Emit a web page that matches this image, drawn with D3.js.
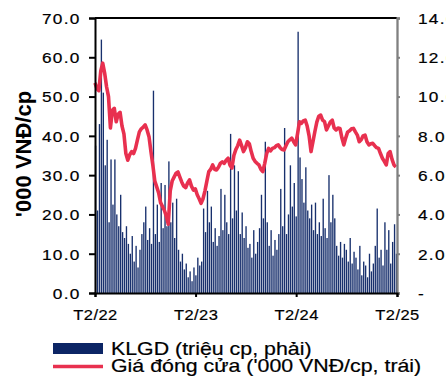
<!DOCTYPE html>
<html>
<head>
<meta charset="utf-8">
<script src="https://cdn.jsdelivr.net/npm/d3@7"></script>
<style>
  html, body { margin: 0; padding: 0; background: #fff; }
  svg { display: block; font-family: "Liberation Sans", Arial, sans-serif; }
</style>
</head>
<body>
<svg id="chart" width="446" height="385"></svg>
<script>
// Weekly series starting the first week of February 2022
const startDate = new Date(2022, 1, 1);

// Closing price, '000 VND per share (left axis)
const closePrice = [
  53.5, 52.0, 51.5, 56.5, 58.5, 56.0, 52.5, 50.0, 42.0, 46.5,
  47.0, 43.6, 45.5, 46.0, 42.5, 40.5, 35.5, 33.8, 35.2, 36.0,
  35.5, 36.8, 39.0, 41.0, 41.8, 42.2, 42.8, 41.5, 39.8, 36.0,
  32.5, 28.5, 27.0, 25.5, 23.0, 22.0, 21.0, 19.5, 17.5, 26.0,
  28.5, 29.5, 30.5, 30.8, 29.5, 28.2, 27.2, 26.8, 28.0, 28.8,
  27.2, 26.2, 26.5, 25.0, 24.0, 22.8, 24.0, 26.0, 28.5, 30.9,
  31.5, 32.6, 31.5, 31.3, 32.0, 33.0, 33.4, 33.0, 33.8, 34.3,
  32.5, 31.8, 35.0, 36.5, 37.5, 38.9, 37.5, 36.0, 37.0, 38.5,
  38.0, 36.0, 34.3, 33.5, 33.0, 32.6, 31.5, 30.9, 33.0, 35.5,
  36.8, 36.2, 36.8, 37.0, 37.5, 37.7, 37.0, 36.5, 36.4, 37.5,
  38.5, 39.0, 39.4, 38.5, 37.7, 40.5, 43.6, 43.2, 43.8, 44.0,
  42.5, 40.0, 36.0, 38.5, 41.1, 43.5, 45.0, 45.3, 44.0, 43.6,
  41.5, 42.5, 43.5, 44.0, 42.0, 41.5, 42.0, 41.9, 39.5, 37.7,
  39.5, 41.0, 41.3, 41.8, 41.9, 41.0, 40.2, 38.5, 39.0, 40.0,
  40.2, 38.5, 37.7, 38.0, 38.1, 37.5, 37.0, 36.8, 35.5, 34.3,
  33.5, 32.6, 35.5, 36.0, 34.0, 32.6, 32.1
];

// Trading volume, million shares (right axis)
const volume = [
  7.5, 4.2, 8.6, 12.9, 10.2, 6.5, 7.8, 3.6, 6.8, 4.5,
  6.8, 4.0, 3.4, 5.0, 3.1, 2.8, 3.4, 2.5, 2.0, 2.9,
  1.6, 2.4, 1.3, 2.2, 3.0, 3.6, 4.4, 2.7, 3.3, 2.5,
  10.3, 3.0, 4.5, 2.6, 5.6, 3.3, 5.5, 3.4, 6.7, 3.6,
  4.6, 2.8, 4.8, 2.2, 1.6, 2.0, 1.2, 1.5, 0.8, 1.1,
  0.6, 1.3, 0.9, 1.8, 1.4, 1.6, 4.3, 3.1, 5.2, 3.6,
  4.4, 2.6, 3.3, 2.4, 2.9, 5.3, 3.2, 5.0, 3.6, 3.0,
  8.1, 3.8, 6.5, 4.2, 6.2, 3.0, 4.1, 2.8, 3.4, 2.3,
  2.5, 1.8, 3.2, 2.0, 2.6, 3.3, 5.0, 3.8, 7.7, 3.6,
  2.4, 3.2, 1.9, 2.7, 2.2, 3.0, 5.3, 3.4, 8.4, 3.0,
  4.0, 6.5, 4.4, 5.6, 3.9, 13.3, 6.9, 5.8, 4.6, 6.4,
  4.2, 3.8, 4.5, 3.2, 4.6, 3.0, 3.6, 2.9, 4.8, 3.3,
  2.8, 6.0, 3.6, 5.0, 3.8, 2.4, 1.9, 2.6, 1.8, 2.5,
  2.2, 1.6, 2.8, 1.5, 2.1, 1.8, 1.2, 2.4, 0.9, 1.6,
  1.4, 0.8, 2.0, 1.1, 1.5, 2.4, 4.3, 1.8, 2.2, 1.4,
  3.6, 2.2, 3.2, 1.5, 2.6, 3.5, 2.0
];

// Axis ticks and labels
const xTickDates = [new Date(2022, 1, 1), new Date(2023, 1, 1), new Date(2024, 1, 1), new Date(2025, 1, 1)];
const xTickLabels = ["T2/22", "T2/23", "T2/24", "T2/25"];
const priceTicks = [0, 10, 20, 30, 40, 50, 60, 70];
const volumeTicks = [0, 2, 4, 6, 8, 10, 12, 14];

const legendLabels = ["KLGD (triệu cp, phải)", "Giá đóng cửa ('000 VNĐ/cp, trái)"];
const yTitle = "'000 VNĐ/cp";

const barColor = "#0c2565";
const lineColor = "#e8304f";
const textColor = "#000";

const weeks = closePrice.map((_, i) => d3.timeDay.offset(startDate, 7 * i));

const svg = d3.select("#chart");
const plotLeft = 95, plotRight = 397, plotTop = 18, plotBottom = 293;

const x = d3.scaleTime().domain([xTickDates[0], xTickDates[3]]).range([plotLeft, plotRight]);
const yL = d3.scaleLinear().domain([0, 70]).range([plotBottom, plotTop]);
const yR = d3.scaleLinear().domain([0, 14]).range([plotBottom, plotTop]);

// Volume bars
const step = x(weeks[1]) - x(weeks[0]);
const barW = step * 0.7;
svg.append("g")
  .selectAll("rect")
  .data(volume)
  .join("rect")
  .attr("x", (d, i) => x(weeks[i]) - barW / 2 + 0.6)
  .attr("y", d => yR(d))
  .attr("width", barW)
  .attr("height", d => yR(0) - yR(d))
  .attr("fill", barColor)
  .attr("fill-opacity", 0.95);

// Closing price line
svg.append("path")
  .datum(closePrice)
  .attr("fill", "none")
  .attr("stroke", lineColor)
  .attr("stroke-width", 3.6)
  .attr("stroke-linejoin", "round")
  .attr("d", d3.line().x((d, i) => x(weeks[i])).y(d => yL(d)));

// Top frame line
svg.append("line")
  .attr("x1", plotLeft).attr("x2", plotRight)
  .attr("y1", plotTop).attr("y2", plotTop)
  .attr("stroke", "#000").attr("stroke-width", 2);

// Shared look of tick labels: slightly widened Arial-style glyphs
function styleTicks(sel, sx, spacing) {
  sel.attr("font-size", 15)
    .attr("fill", textColor)
    .attr("stroke", textColor)
    .attr("stroke-width", 0.2)
    .attr("font-family", "'Liberation Sans', Arial, sans-serif")
    .style("letter-spacing", spacing + "px");
}

// Left axis
const sxL = 1.15;
const gL = svg.append("g").attr("transform", `translate(${plotLeft},0)`)
  .call(d3.axisLeft(yL).tickValues(priceTicks).tickFormat(d3.format(".1f")).tickSize(6));
gL.select(".domain").attr("stroke", "#000").attr("stroke-width", 2);
gL.selectAll(".tick line").attr("stroke", "#000").attr("stroke-width", 2);
gL.selectAll(".tick text")
  .call(styleTicks, sxL, 1.1)
  .attr("x", -14.4 / sxL)
  .attr("dy", "0.36em")
  .attr("transform", `scale(${sxL},1)`);

// Right axis
const gR = svg.append("g").attr("transform", `translate(${plotRight},0)`)
  .call(d3.axisRight(yR).tickValues(volumeTicks)
    .tickFormat(d => d === 0 ? "-" : d3.format(".1f")(d)).tickSize(3));
gR.select(".domain").attr("stroke", "#808080").attr("stroke-width", 2.3);
gR.selectAll(".tick line").attr("stroke", "#808080").attr("stroke-width", 2);
gR.selectAll(".tick text")
  .call(styleTicks, sxL, 1.1)
  .attr("x", 21 / sxL)
  .attr("dy", "0.36em")
  .attr("transform", `scale(${sxL},1)`);

// Bottom axis
const sxB = 1.1;
const gB = svg.append("g").attr("transform", `translate(0,${plotBottom})`)
  .call(d3.axisBottom(x).tickValues(xTickDates)
    .tickFormat((d, i) => xTickLabels[i]).tickSize(4).tickPadding(12));
gB.select(".domain").attr("stroke", "#000").attr("stroke-width", 2);
gB.selectAll(".tick line").attr("stroke", "#000").attr("stroke-width", 2);
gB.selectAll(".tick text")
  .call(styleTicks, sxB, 0.4)
  .attr("dy", "0.71em")
  .attr("transform", `scale(${sxB},1)`);

// Left axis title
svg.append("text")
  .attr("transform", "translate(30.5,154) rotate(-90)")
  .attr("text-anchor", "middle")
  .attr("font-size", 22)
  .attr("font-weight", "bold")
  .attr("fill", textColor)
  .text(yTitle);

// Legend
const lg = svg.append("g");
lg.append("rect").attr("x", 53).attr("y", 343).attr("width", 50).attr("height", 11).attr("fill", barColor);
lg.append("line").attr("x1", 53).attr("x2", 103).attr("y1", 366.5).attr("y2", 366.5)
  .attr("stroke", lineColor).attr("stroke-width", 3.6);
lg.selectAll("text")
  .data(legendLabels)
  .join("text")
  .attr("transform", (d, i) => `translate(111,${i === 0 ? 355 : 372}) scale(1.22,1)`)
  .attr("font-size", 17.5)
  .attr("fill", textColor)
  .attr("stroke", textColor)
  .attr("stroke-width", 0.2)
  .text(d => d);
</script>
</body>
</html>
